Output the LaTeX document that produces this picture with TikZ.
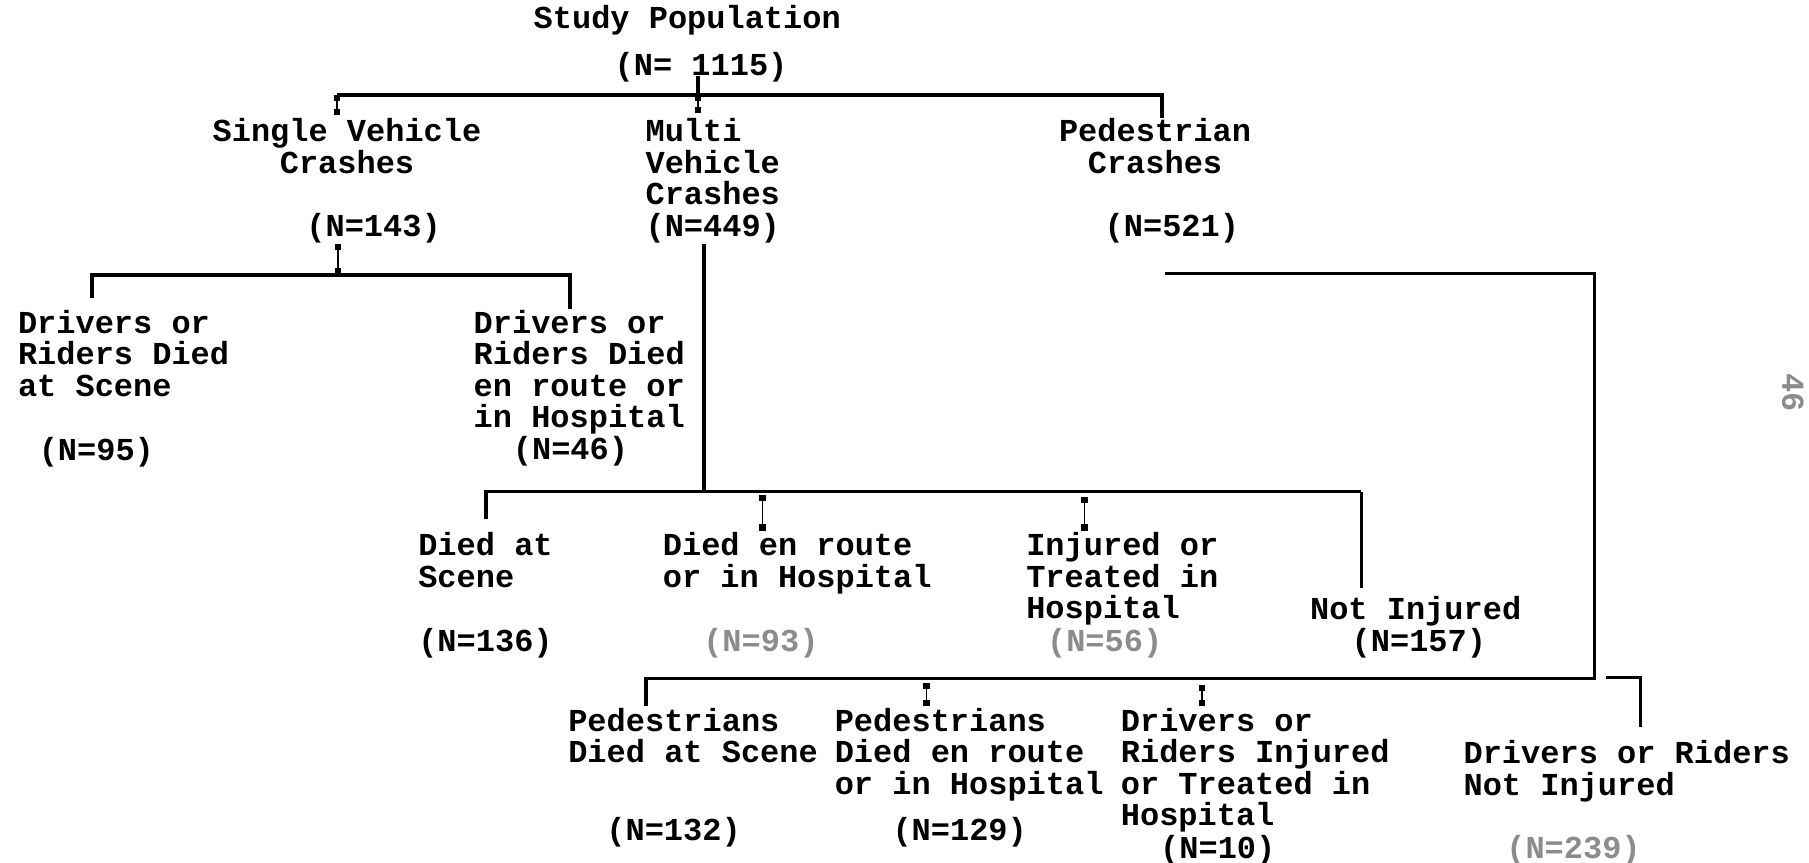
\documentclass[tikz,border=0pt]{standalone}
\usepackage{fontspec}
\setmonofont{Liberation Mono}
\usetikzlibrary{positioning, arrows.meta}
\newcommand{\chartfont}{\ttfamily\bfseries\fontsize{9.1}{8.96}\selectfont}

\begin{document}
\begin{tikzpicture}

        \useasboundingbox (0,0) rectangle (18.09,-8.63);

        % Setup the styles for the labels and the lines
        % (a label is placed by the baseline of its last line)
        \tikzset{label style/.style={anchor=base west,
                                     inner sep=0pt,
                                     align=left,
                                     font=\chartfont},
                 centre style/.style={label style, anchor=base, align=center},
                 faint/.style={text=black!45},
                 bar/.style={line width=1.1pt},
                 tick/.style={line width=0.5pt,
                              {Square[length=1.8pt,width=1.8pt]}-{Square[length=1.8pt,width=1.8pt]}}}

        % Draw the population
        \node[label style] at (5.33, -0.286) (pop)  {Study Population};
        \node[label style] at (6.14, -0.759) (popN) {(N= 1115)};

        % Draw the crash types
        \node[centre style] at (3.47, -1.732)  (single)  {Single Vehicle\\Crashes};
        \node[label style]  at (3.057, -2.363) (singleN) {(N=143)};
        \node[label style]  at (6.449, -2.047) (multi)   {Multi\\Vehicle\\Crashes};
        \node[label style]  at (6.449, -2.363) (multiN)  {(N=449)};
        \node[centre style] at (11.55, -1.732) (ped)     {Pedestrian\\Crashes};
        \node[label style]  at (11.04, -2.363) (pedN)    {(N=521)};

        % Draw the single vehicle outcomes
        \node[label style] at (0.173, -3.962) (sScene)    {Drivers or\\Riders Died\\at Scene};
        \node[label style] at (0.381, -4.601) (sSceneN)   {(N=95)};
        \node[label style] at (4.73, -4.277)  (sHosp)     {Drivers or\\Riders Died\\en route or\\in Hospital};
        \node[label style] at (5.122, -4.59)  (sHospN)    {(N=46)};

        % Draw the multi vehicle outcomes
        \node[label style]        at (4.176, -5.874)  (mScene)   {Died at\\Scene};
        \node[label style]        at (4.176, -6.516)  (mSceneN)  {(N=136)};
        \node[label style]        at (6.622, -5.874)  (mHosp)    {Died en route\\or in Hospital};
        \node[label style, faint] at (7.026, -6.516)  (mHospN)   {(N=93)};
        \node[label style]        at (10.256, -6.189) (mInj)     {Injured or\\Treated in\\Hospital};
        \node[label style, faint] at (10.464, -6.516) (mInjN)    {(N=56)};
        \node[label style]        at (13.094, -6.193) (mNot)     {Not Injured};
        \node[label style]        at (13.51, -6.516)  (mNotN)    {(N=157)};

        % Draw the pedestrian outcomes
        \node[label style]        at (5.676, -7.627)  (pScene)   {Pedestrians\\Died at Scene};
        \node[label style]        at (6.057, -8.408)  (pSceneN)  {(N=132)};
        \node[label style]        at (8.341, -7.942)  (pHosp)    {Pedestrians\\Died en route\\or in Hospital};
        \node[label style]        at (8.918, -8.408)  (pHospN)   {(N=129)};
        \node[label style]        at (11.202, -8.257) (pInj)     {Drivers or\\Riders Injured\\or Treated in\\Hospital};
        \node[label style]        at (11.595, -8.581) (pInjN)    {(N=10)};
        \node[label style]        at (14.629, -7.95)  (pNot)     {Drivers or Riders\\Not Injured};
        \node[label style, faint] at (15.056, -8.581) (pNotN)    {(N=239)};

        % Page number
        \node[font=\chartfont, faint, rotate=-90, inner sep=0pt] at (17.93, -3.93) (page) {46};

        % Junctions of the brackets
        \coordinate (top L) at (3.37, -0.946);
        \coordinate (top M) at (6.98, -0.946);
        \coordinate (top R) at (11.62, -0.946);
        \coordinate (top Le) at (3.37, -1.15);
        \coordinate (top Me) at (6.98, -1.13);
        \coordinate (top Re) at (11.62, -1.177);

        \coordinate (sgl M) at (3.38, -2.746);
        \coordinate (sgl L) at (0.923, -2.746);
        \coordinate (sgl R) at (5.70, -2.746);
        \coordinate (sgl Le) at (0.923, -2.977);
        \coordinate (sgl Re) at (5.70, -3.09);

        \coordinate (mlt M) at (7.038, -4.915);
        \coordinate (mlt L) at (4.857, -4.915);
        \coordinate (mlt R) at (13.614, -4.915);
        \coordinate (mlt Le) at (4.857, -5.19);
        \coordinate (mlt Re) at (13.614, -5.884);
        \coordinate (mlt B1) at (7.626, -4.95);
        \coordinate (mlt B2) at (7.626, -5.307);
        \coordinate (mlt C1) at (10.845, -4.97);
        \coordinate (mlt C2) at (10.845, -5.307);

        \coordinate (pd S) at (11.652, -2.734);
        \coordinate (pd C) at (15.944, -2.734);
        \coordinate (pd M) at (15.944, -6.784);
        \coordinate (pd L) at (6.46, -6.784);
        \coordinate (pd Le) at (6.46, -7.06);
        \coordinate (pd B1) at (9.264, -6.83);
        \coordinate (pd B2) at (9.264, -7.06);
        \coordinate (pd C1) at (12.022, -6.85);
        \coordinate (pd C2) at (12.022, -7.06);
        \coordinate (pd R) at (16.06, -6.772);
        \coordinate (pd Rc) at (16.406, -6.772);
        \coordinate (pd Re) at (16.406, -7.268);

        % Connect the population to the crash types
        \draw[bar] (popN.base -| top M) -- (top M);
        \draw[bar] (top L) -- (top R) -- (top Re);
        \draw[tick] (top L) -- (top Le);
        \draw[tick] (top M) -- (top Me);

        % Connect the single vehicle crashes
        \draw[tick] (singleN.south -| sgl M) -- (sgl M);
        \draw[bar] (sgl Le) -- (sgl L) -- (sgl R) -- (sgl Re);

        % Connect the multi vehicle crashes
        \draw[bar] (multiN.south -| mlt M) -- (mlt M);
        \draw[bar] (mlt Le) -- (mlt L) -- (mlt R);
        \draw[line width=0.8pt] (mlt R) -- (mlt Re);
        \draw[tick] (mlt B1) -- (mlt B2);
        \draw[tick] (mlt C1) -- (mlt C2);

        % Connect the pedestrian crashes
        \draw[line width=0.9pt] (pd S) -- (pd C) -- (pd M) -- (pd L) -- (pd Le);
        \draw[tick] (pd B1) -- (pd B2);
        \draw[tick] (pd C1) -- (pd C2);
        \draw[line width=0.9pt] (pd R) -- (pd Rc) -- (pd Re);

\end{tikzpicture}
\end{document}
